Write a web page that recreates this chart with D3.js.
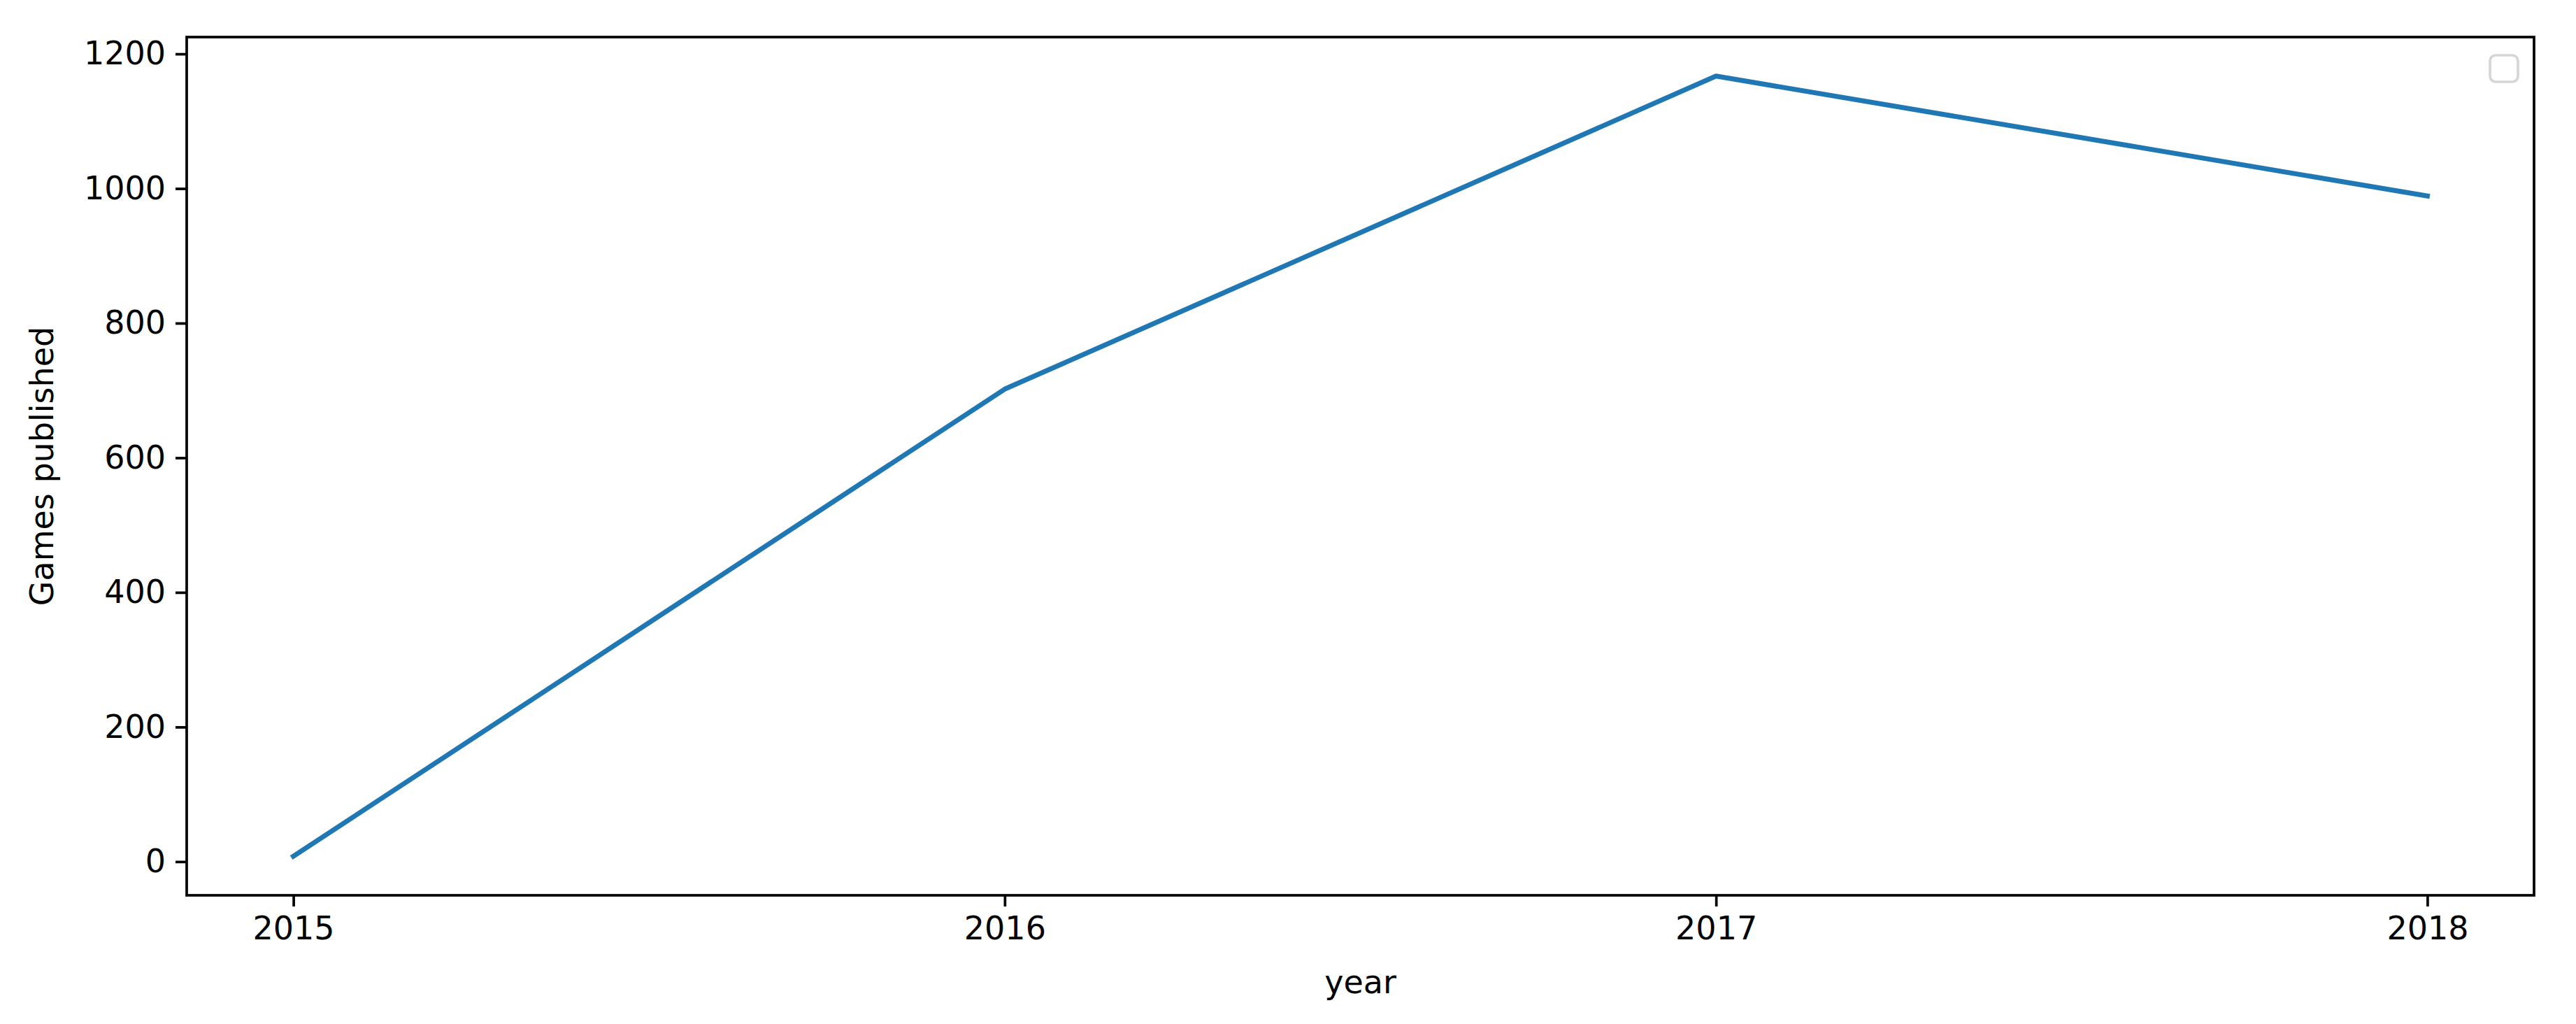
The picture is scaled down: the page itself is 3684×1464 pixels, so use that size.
<!DOCTYPE html>
<html>
<head>
<meta charset="utf-8">
<script src="https://cdn.jsdelivr.net/npm/d3@7"></script>
<style>
  body { margin: 0; background: #fff; }
  text { font-family: "DejaVu Sans", sans-serif; fill: #000; }
</style>
</head>
<body>
<div id="chart"></div>
<script>
// games published per year
var years = [2015, 2016, 2017, 2018];
var games = [8, 702, 1167, 989];
var yTicks = [0, 200, 400, 600, 800, 1000, 1200];

var width = 3684, height = 1464;
// plot box (window.top is read-only, so no "top" here)
var plotLeft = 267, plotRight = 3624, plotTop = 53, plotBottom = 1280;
var fontSize = 46;

var svg = d3.select("#chart").append("svg")
  .attr("width", width)
  .attr("height", height);

svg.append("rect")
  .attr("width", width)
  .attr("height", height)
  .attr("fill", "#fff");

// matplotlib style 5% margins around the data
var xScale = d3.scaleLinear()
  .domain([2014.85, 2018.15])
  .range([plotLeft, plotRight]);

var yScale = d3.scaleLinear()
  .domain([-50, 1225])
  .range([plotBottom, plotTop]);

// x axis
var xAxis = svg.append("g")
  .attr("transform", "translate(0," + plotBottom + ")")
  .call(d3.axisBottom(xScale)
    .tickValues(years)
    .tickFormat(d3.format("d"))
    .tickSizeInner(16)
    .tickSizeOuter(0)
    .tickPadding(14));
xAxis.select(".domain").remove();
xAxis.selectAll("line").attr("stroke", "#000").attr("stroke-width", 3.7);
xAxis.selectAll("text")
  .style("font-size", fontSize + "px")
  .style("font-family", "DejaVu Sans")
  .attr("fill", "#000");

// y axis
var yAxis = svg.append("g")
  .attr("transform", "translate(" + plotLeft + ",0)")
  .call(d3.axisLeft(yScale)
    .tickValues(yTicks)
    .tickFormat(d3.format("d"))
    .tickSizeInner(16)
    .tickSizeOuter(0)
    .tickPadding(14));
yAxis.select(".domain").remove();
yAxis.selectAll("line").attr("stroke", "#000").attr("stroke-width", 3.7);
yAxis.selectAll("text")
  .style("font-size", fontSize + "px")
  .style("font-family", "DejaVu Sans")
  .attr("fill", "#000");

// the line
var line = d3.line()
  .x(function(d, i) { return xScale(years[i]); })
  .y(function(d) { return yScale(d); });

svg.append("path")
  .datum(games)
  .attr("d", line)
  .attr("fill", "none")
  .attr("stroke", "#1f77b4")
  .attr("stroke-width", 7)
  .attr("stroke-linejoin", "round")
  .attr("stroke-linecap", "square");

// frame
svg.append("rect")
  .attr("x", plotLeft)
  .attr("y", plotTop)
  .attr("width", plotRight - plotLeft)
  .attr("height", plotBottom - plotTop)
  .attr("fill", "none")
  .attr("stroke", "#000")
  .attr("stroke-width", 3.7);

// empty legend box
svg.append("rect")
  .attr("x", 3561)
  .attr("y", 79)
  .attr("width", 40)
  .attr("height", 38)
  .attr("rx", 8)
  .attr("fill", "#fff")
  .attr("stroke", "#d6d6d6")
  .attr("stroke-width", 3.7);

// axis labels
svg.append("text")
  .text("year")
  .style("font-size", fontSize + "px")
  .attr("text-anchor", "middle")
  .attr("x", (plotLeft + plotRight) / 2)
  .attr("y", 1420);

svg.append("text")
  .text("Games published")
  .style("font-size", fontSize + "px")
  .attr("text-anchor", "middle")
  .attr("transform", "translate(76," + (plotTop + plotBottom) / 2 + ") rotate(-90)");
</script>
</body>
</html>
